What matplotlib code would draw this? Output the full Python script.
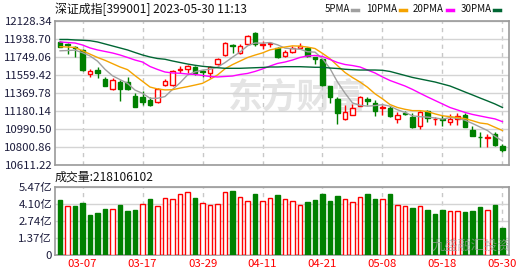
import numpy as np
import matplotlib
matplotlib.use("Agg")
import matplotlib.pyplot as plt
from matplotlib.lines import Line2D

plt.rcParams['font.family'] = ['Noto Sans CJK SC', 'DejaVu Sans']

# trading days 2023-03-02 .. 2023-05-30
dates = ['03-02', '03-03', '03-06', '03-07', '03-08', '03-09', '03-10', '03-13', '03-14', '03-15',
         '03-16', '03-17', '03-20', '03-21', '03-22', '03-23', '03-24', '03-27', '03-28', '03-29',
         '03-30', '03-31', '04-03', '04-04', '04-06', '04-07', '04-10', '04-11', '04-12', '04-13',
         '04-14', '04-17', '04-18', '04-19', '04-20', '04-21', '04-24', '04-25', '04-26', '04-27',
         '04-28', '05-04', '05-05', '05-08', '05-09', '05-10', '05-11', '05-12', '05-15', '05-16',
         '05-17', '05-18', '05-19', '05-22', '05-23', '05-24', '05-25', '05-26', '05-29', '05-30']

opens = [11911, 11888, 11858, 11824, 11571, 11613, 11519, 11409, 11491, 11487,
         11337, 11330, 11295, 11274, 11459, 11456, 11618, 11624, 11645, 11600,
         11585, 11673, 11768, 11878, 11795, 11883, 11999, 11880, 11890, 11841,
         11764, 11799, 11845, 11841, 11747, 11726, 11445, 11309, 11099, 11141,
         11235, 11309, 11263, 11211, 11211, 11099, 11165, 11123, 11028, 11183,
         11093, 11094, 11062, 11095, 11141, 10983, 10912, 10903, 10938, 10809]
highs = [11922, 11902, 11866, 11836, 11621, 11648, 11537, 11525, 11508, 11537,
         11369, 11396, 11333, 11424, 11519, 11613, 11655, 11663, 11655, 11613,
         11655, 11740, 11911, 11886, 11883, 11981, 12009, 11921, 11912, 11850,
         11824, 11862, 11900, 11855, 11750, 11733, 11450, 11326, 11246, 11253,
         11340, 11326, 11298, 11246, 11230, 11175, 11180, 11165, 11180, 11193,
         11123, 11141, 11148, 11158, 11158, 11028, 10959, 10938, 10965, 10833]
lows = [11850, 11780, 11752, 11605, 11543, 11533, 11445, 11405, 11291, 11405,
        11221, 11249, 11238, 11270, 11445, 11450, 11585, 11585, 11561, 11543,
        11526, 11665, 11760, 11795, 11781, 11876, 11866, 11831, 11850, 11740,
        11747, 11790, 11840, 11745, 11673, 11450, 11270, 11046, 11090, 11135,
        11230, 11246, 11133, 11141, 11120, 11053, 11135, 11005, 10994, 11070,
        11036, 11028, 11036, 11036, 11015, 10918, 10808, 10801, 10815, 10749]
closes = [11858, 11880, 11848, 11613, 11606, 11585, 11448, 11508, 11414, 11410,
          11228, 11280, 11246, 11417, 11501, 11603, 11625, 11657, 11580, 11595,
          11648, 11733, 11900, 11862, 11868, 11971, 11885, 11890, 11896, 11747,
          11799, 11848, 11870, 11761, 11726, 11456, 11333, 11158, 11175, 11211,
          11333, 11288, 11186, 11225, 11133, 11141, 11148, 11011, 11175, 11113,
          11100, 11088, 11094, 11130, 11018, 10923, 10905, 10910, 10825, 10774]

ma5 = [11815, 11818, 11822, 11795, 11761, 11706, 11620, 11552, 11512, 11473,
       11402, 11368, 11316, 11316, 11334, 11409, 11478, 11561, 11593, 11612,
       11621, 11643, 11691, 11748, 11802, 11867, 11897, 11895, 11902, 11878,
       11843, 11836, 11832, 11805, 11801, 11732, 11629, 11487, 11370, 11267,
       11242, 11233, 11239, 11249, 11233, 11195, 11167, 11132, 11122, 11118,
       11109, 11097, 11114, 11105, 11086, 11051, 11014, 10977, 10916, 10867]
ma10 = [11858, 11855, 11850, 11815, 11780, 11745, 11715, 11680, 11645, 11617,
        11554, 11494, 11434, 11414, 11404, 11406, 11423, 11438, 11455, 11473,
        11515, 11561, 11626, 11670, 11707, 11744, 11770, 11793, 11825, 11840,
        11855, 11867, 11864, 11854, 11839, 11788, 11733, 11659, 11587, 11534,
        11487, 11432, 11363, 11310, 11250, 11219, 11200, 11186, 11186, 11176,
        11152, 11132, 11123, 11114, 11102, 11080, 11056, 11046, 11011, 10977]
ma20 = [11908, 11902, 11897, 11876, 11845, 11824, 11808, 11792, 11771, 11745,
        11718, 11697, 11650, 11619, 11592, 11582, 11579, 11571, 11566, 11556,
        11545, 11540, 11545, 11550, 11566, 11577, 11598, 11624, 11655, 11682,
        11697, 11718, 11745, 11761, 11766, 11755, 11724, 11692, 11671, 11660,
        11645, 11613, 11582, 11540, 11503, 11474, 11445, 11409, 11369, 11330,
        11293, 11256, 11219, 11193, 11167, 11146, 11130, 11114, 11099, 11070]
ma30 = [11934, 11934, 11929, 11926, 11921, 11908, 11887, 11866, 11845, 11824,
        11797, 11771, 11750, 11734, 11726, 11708, 11692, 11676, 11663, 11652,
        11645, 11637, 11631, 11631, 11631, 11634, 11637, 11640, 11645, 11645,
        11648, 11648, 11648, 11645, 11642, 11642, 11634, 11629, 11621, 11616,
        11613, 11613, 11613, 11610, 11598, 11577, 11556, 11535, 11519, 11503,
        11487, 11466, 11445, 11414, 11382, 11351, 11319, 11288, 11256, 11219]

# volume in 亿
volume = [4.39, 3.91, 3.90, 4.18, 3.20, 3.38, 3.68, 3.68, 4.00, 3.52,
          3.60, 4.05, 4.47, 3.89, 4.53, 4.45, 4.87, 5.01, 4.53, 4.13,
          3.97, 4.05, 5.01, 5.11, 4.61, 4.29, 4.87, 4.29, 4.53, 4.79,
          4.45, 4.29, 3.97, 4.23, 4.39, 4.87, 4.31, 4.71, 4.45, 4.23,
          4.61, 4.87, 4.47, 4.45, 4.87, 3.97, 3.91, 3.76, 3.89, 3.60,
          3.28, 3.60, 3.54, 3.52, 3.46, 3.52, 3.81, 3.57, 4.00, 2.18]

price_ticks = [10611.22, 10800.86, 10990.50, 11180.14, 11369.78, 11559.42, 11749.06, 11938.70, 12128.34]
vol_ticks = [0, 1.37, 2.74, 4.10, 5.47]
vol_labels = ['0', '1.37亿', '2.74亿', '4.10亿', '5.47亿']
date_ticks = [3, 11, 19, 27, 35, 43, 51, 59]

RED = '#ff0000'
GREEN = '#008000'
GRID = '#d4d4d4'
EDGE = '#9a9a9a'
TXT = '#1c1c3c'

W, H = 530, 276
fig = plt.figure(figsize=(W / 100, H / 100), dpi=100)
ax = fig.add_axes([55 / W, 1 - 165.3 / H, 454 / W, 144.3 / H])
axv = fig.add_axes([55 / W, 1 - 255 / H, 454 / W, 68.5 / H], sharex=ax)

x = np.arange(len(dates))
o = np.array(opens)
c = np.array(closes)
hi = np.array(highs)
lo = np.array(lows)
up = c >= o

# candles
bot = np.minimum(o, c)
top = np.maximum(o, c)
ax.vlines(x, lo, bot, colors=[RED if u else GREEN for u in up], lw=1, zorder=3)
ax.vlines(x, top, hi, colors=[RED if u else GREEN for u in up], lw=1, zorder=3)
ax.bar(x, np.maximum(top - bot, 1), bottom=bot, width=0.62,
       facecolor=['white' if u else GREEN for u in up],
       edgecolor=[RED if u else GREEN for u in up], linewidth=1, zorder=3)

ax.plot(x, ma5, color='#a0a0a0', lw=1, zorder=4)
ax.plot(x, ma10, color='#f5a300', lw=1, zorder=4)
ax.plot(x, ma20, color='#ff00ff', lw=1, zorder=4)
ax.plot(x, ma30, color='#006633', lw=1, zorder=4)

# volume coloured by close vs previous close
vup = [False] + [c[i] > c[i - 1] for i in range(1, len(c))]
axv.bar(x, volume, width=0.62,
        facecolor=['white' if u else GREEN for u in vup],
        edgecolor=[RED if u else GREEN for u in vup], linewidth=1, zorder=3)

ax.set_xlim(-0.67, 59.87)
ax.set_ylim(price_ticks[0], price_ticks[-1])
ax.set_yticks(price_ticks)
ax.set_yticklabels(['%.2f' % t for t in price_ticks], fontsize=8.2, color=TXT)
axv.set_ylim(0, 5.47)
axv.set_yticks(vol_ticks)
axv.set_yticklabels(vol_labels, fontsize=8.2, color=TXT)
axv.set_xticks(date_ticks)
axv.set_xticklabels([dates[i] for i in date_ticks], fontsize=8.2, color=RED)
ax.tick_params(labelbottom=False)

for a in (ax, axv):
    a.tick_params(length=0, pad=2)
    a.yaxis.grid(True, color=GRID, lw=1)
    a.xaxis.grid(True, color='#c8c8c8', lw=1, ls=(0, (3, 3)))
    a.set_axisbelow(True)
    for s in a.spines.values():
        s.set_color(EDGE)
        s.set_linewidth(1.2)
axv.tick_params(axis='x', pad=3)

# watermarks
ax.text(0.38, 0.47, '东方财富', transform=ax.transAxes, fontsize=25, fontweight='bold',
        color='#e4e4e4', va='center', ha='left', zorder=0)
axv.text(0.83, 0.12, '九盛融汇投资', transform=axv.transAxes, fontsize=9.5,
         color='#9a9a9a', alpha=0.7, va='center', ha='left', zorder=5)

# header texts
fig.text(55 / W, 1 - 9 / H, '深证成指[399001] 2023-05-30 11:13', fontsize=8.6,
         color='#111111', va='center', ha='left')
fig.text(55 / W, 1 - 177 / H, '成交量:218106102', fontsize=8.6,
         color='#111111', va='center', ha='left')

legend = [('5PMA', 325, 352, '#a0a0a0'), ('10PMA', 366, 400, '#f5a300'),
          ('20PMA', 413, 447, '#ff00ff'), ('30PMA', 461, 494, '#006633')]
for name, tx, mx, col in legend:
    fig.text(tx / W, 1 - 9 / H, name, fontsize=7, color='#111111', va='center', ha='left')
    fig.add_artist(Line2D([mx / W, (mx + 6) / W], [1 - 9.5 / H, 1 - 9.5 / H],
                          color=col, lw=2.5, transform=fig.transFigure))

fig.savefig('out.png', dpi=100)
